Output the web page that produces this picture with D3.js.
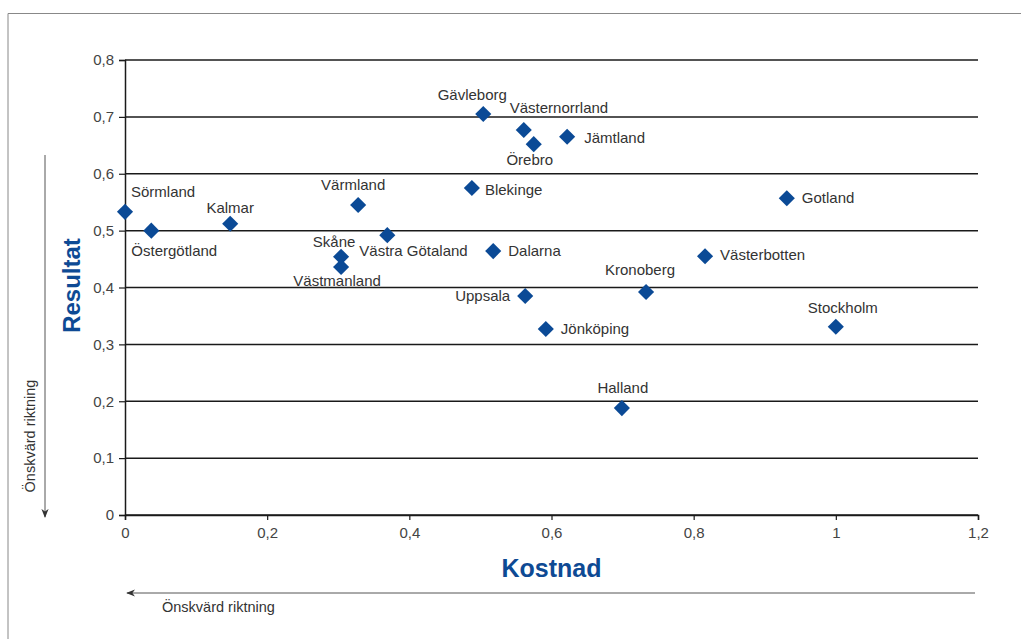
<!DOCTYPE html>
<html>
<head>
<meta charset="utf-8">
<script src="https://cdn.jsdelivr.net/npm/d3@7"></script>
<style>
    body { margin: 0; background: #fff; }
    svg { display: block; font-family: "Liberation Sans", Arial, sans-serif; }
    .grid line { stroke: #1a1a1a; stroke-width: 1.5; }
    .tick text { fill: #444; font-size: 15px; }
    .lan-label { fill: #333; font-size: 15px; }
    .axis-title { fill: #0e4a94; font-weight: bold; }
    .dir-text { fill: #333; }
</style>
</head>
<body>
<div id="chart"></div>
<script>
// DATA
const lan = ["Sörmland", "Östergötland", "Kalmar", "Värmland", "Västra Götaland", "Skåne", "Västmanland",
    "Gävleborg", "Västernorrland", "Örebro", "Jämtland", "Blekinge", "Dalarna", "Uppsala", "Jönköping",
    "Halland", "Kronoberg", "Västerbotten", "Gotland", "Stockholm"];
const kostnad = [0, 0.037, 0.148, 0.328, 0.369, 0.304, 0.304,
    0.504, 0.561, 0.575, 0.622, 0.488, 0.518, 0.563, 0.592,
    0.699, 0.733, 0.816, 0.931, 1.0];
const resultat = [0.533, 0.5, 0.512, 0.545, 0.492, 0.454, 0.436,
    0.705, 0.677, 0.652, 0.665, 0.575, 0.464, 0.385, 0.327,
    0.188, 0.392, 0.455, 0.557, 0.331];
const xTicks = [0, 0.2, 0.4, 0.6, 0.8, 1, 1.2];
const yTicks = [0, 0.1, 0.2, 0.3, 0.4, 0.5, 0.6, 0.7, 0.8];

// label placement: [dx, dy, anchor]
const labelPos = {
    "Sörmland": [6, -20, "start"],
    "Östergötland": [-20, 20, "start"],
    "Kalmar": [0, -16, "middle"],
    "Värmland": [-5, -20, "middle"],
    "Västra Götaland": [-28, 16, "start"],
    "Skåne": [-7, -15, "middle"],
    "Västmanland": [-4, 14, "middle"],
    "Gävleborg": [-11, -19, "middle"],
    "Västernorrland": [-14, -22, "start"],
    "Örebro": [-4, 16, "middle"],
    "Jämtland": [17, 1, "start"],
    "Blekinge": [13, 2, "start"],
    "Dalarna": [15, 0, "start"],
    "Uppsala": [-15, 0, "end"],
    "Jönköping": [15, 0, "start"],
    "Halland": [1, -20, "middle"],
    "Kronoberg": [-6, -22, "middle"],
    "Västerbotten": [15, -1, "start"],
    "Gotland": [15, 0, "start"],
    "Stockholm": [7, -19, "middle"]
};

const width = 1021;
const height = 639;
const margin = {top: 60, right: 43, bottom: 124, left: 125};

const fmt = d => String(d).replace(".", ",");

const svg = d3.select("#chart")
    .append("svg")
    .attr("width", width)
    .attr("height", height);

// frame
svg.append("path")
    .attr("d", `M 8 ${height} L 8 13.5 L ${width} 13.5`)
    .attr("fill", "none")
    .attr("stroke", "#888")
    .attr("stroke-width", 1);

const xScale = d3.scaleLinear()
    .domain([0, 1.2])
    .range([margin.left, width - margin.right]);

const yScale = d3.scaleLinear()
    .domain([0, 0.8])
    .range([height - margin.bottom, margin.top]);

// horizontal grid
svg.append("g")
    .classed("grid", true)
    .selectAll("line")
    .data(yTicks)
    .join("line")
    .attr("x1", xScale(0))
    .attr("x2", xScale(1.2))
    .attr("y1", d => yScale(d))
    .attr("y2", d => yScale(d));

// y axis
const yAxis = svg.append("g")
    .attr("transform", `translate(${xScale(0)}, 0)`)
    .call(d3.axisLeft(yScale).tickValues(yTicks).tickFormat(fmt).tickSize(6).tickPadding(5));
yAxis.select(".domain").attr("stroke", "#1a1a1a").attr("stroke-width", 1.5);
yAxis.selectAll(".tick line").attr("stroke", "#1a1a1a").attr("stroke-width", 1.2);

// x axis
const xAxis = svg.append("g")
    .attr("transform", `translate(0, ${yScale(0)})`)
    .call(d3.axisBottom(xScale).tickValues(xTicks).tickFormat(fmt).tickSize(5).tickPadding(7));
xAxis.select(".domain").attr("stroke", "#1a1a1a").attr("stroke-width", 1.5);
xAxis.selectAll(".tick line").attr("stroke", "#1a1a1a").attr("stroke-width", 1.2);

// axis titles
svg.append("text")
    .classed("axis-title", true)
    .attr("x", (xScale(0) + xScale(1.2)) / 2)
    .attr("y", 577)
    .attr("text-anchor", "middle")
    .style("font-size", "25px")
    .text("Kostnad");

svg.append("text")
    .classed("axis-title", true)
    .attr("transform", `translate(80, ${yScale(0.4) - 2}) rotate(-90)`)
    .attr("text-anchor", "middle")
    .style("font-size", "24px")
    .text("Resultat");

// direction arrows
svg.append("defs").append("marker")
    .attr("id", "arrow")
    .attr("viewBox", "0 0 10 10")
    .attr("refX", 9)
    .attr("refY", 5)
    .attr("markerWidth", 9)
    .attr("markerHeight", 9)
    .attr("orient", "auto")
    .append("path")
    .attr("d", "M 0 1 L 10 5 L 0 9 L 3 5 Z")
    .attr("fill", "#333");

svg.append("line")
    .attr("x1", 45).attr("x2", 45)
    .attr("y1", 155).attr("y2", 517)
    .attr("stroke", "#555")
    .attr("stroke-width", 1)
    .attr("marker-end", "url(#arrow)");

svg.append("text")
    .classed("dir-text", true)
    .attr("transform", "translate(35, 436) rotate(-90)")
    .attr("text-anchor", "middle")
    .style("font-size", "14.5px")
    .text("Önskvärd riktning");

svg.append("line")
    .attr("x1", 975).attr("x2", 127)
    .attr("y1", 593).attr("y2", 593)
    .attr("stroke", "#555")
    .attr("stroke-width", 1)
    .attr("marker-end", "url(#arrow)");

svg.append("text")
    .classed("dir-text", true)
    .attr("x", 162)
    .attr("y", 612)
    .style("font-size", "14.5px")
    .text("Önskvärd riktning");

// points
const points = lan.map((name, i) => ({name, x: kostnad[i], y: resultat[i]}));

const diamond = d3.symbol().type(d3.symbolSquare).size(130);

svg.append("g")
    .selectAll("path")
    .data(points)
    .join("path")
    .attr("d", diamond)
    .attr("transform", d => `translate(${xScale(d.x)}, ${yScale(d.y)}) rotate(45)`)
    .attr("fill", "#0b4a96");

svg.append("g")
    .selectAll("text")
    .data(points)
    .join("text")
    .classed("lan-label", true)
    .attr("x", d => xScale(d.x) + labelPos[d.name][0])
    .attr("y", d => yScale(d.y) + labelPos[d.name][1])
    .attr("dy", "0.35em")
    .attr("text-anchor", d => labelPos[d.name][2])
    .text(d => d.name);
</script>
</body>
</html>
